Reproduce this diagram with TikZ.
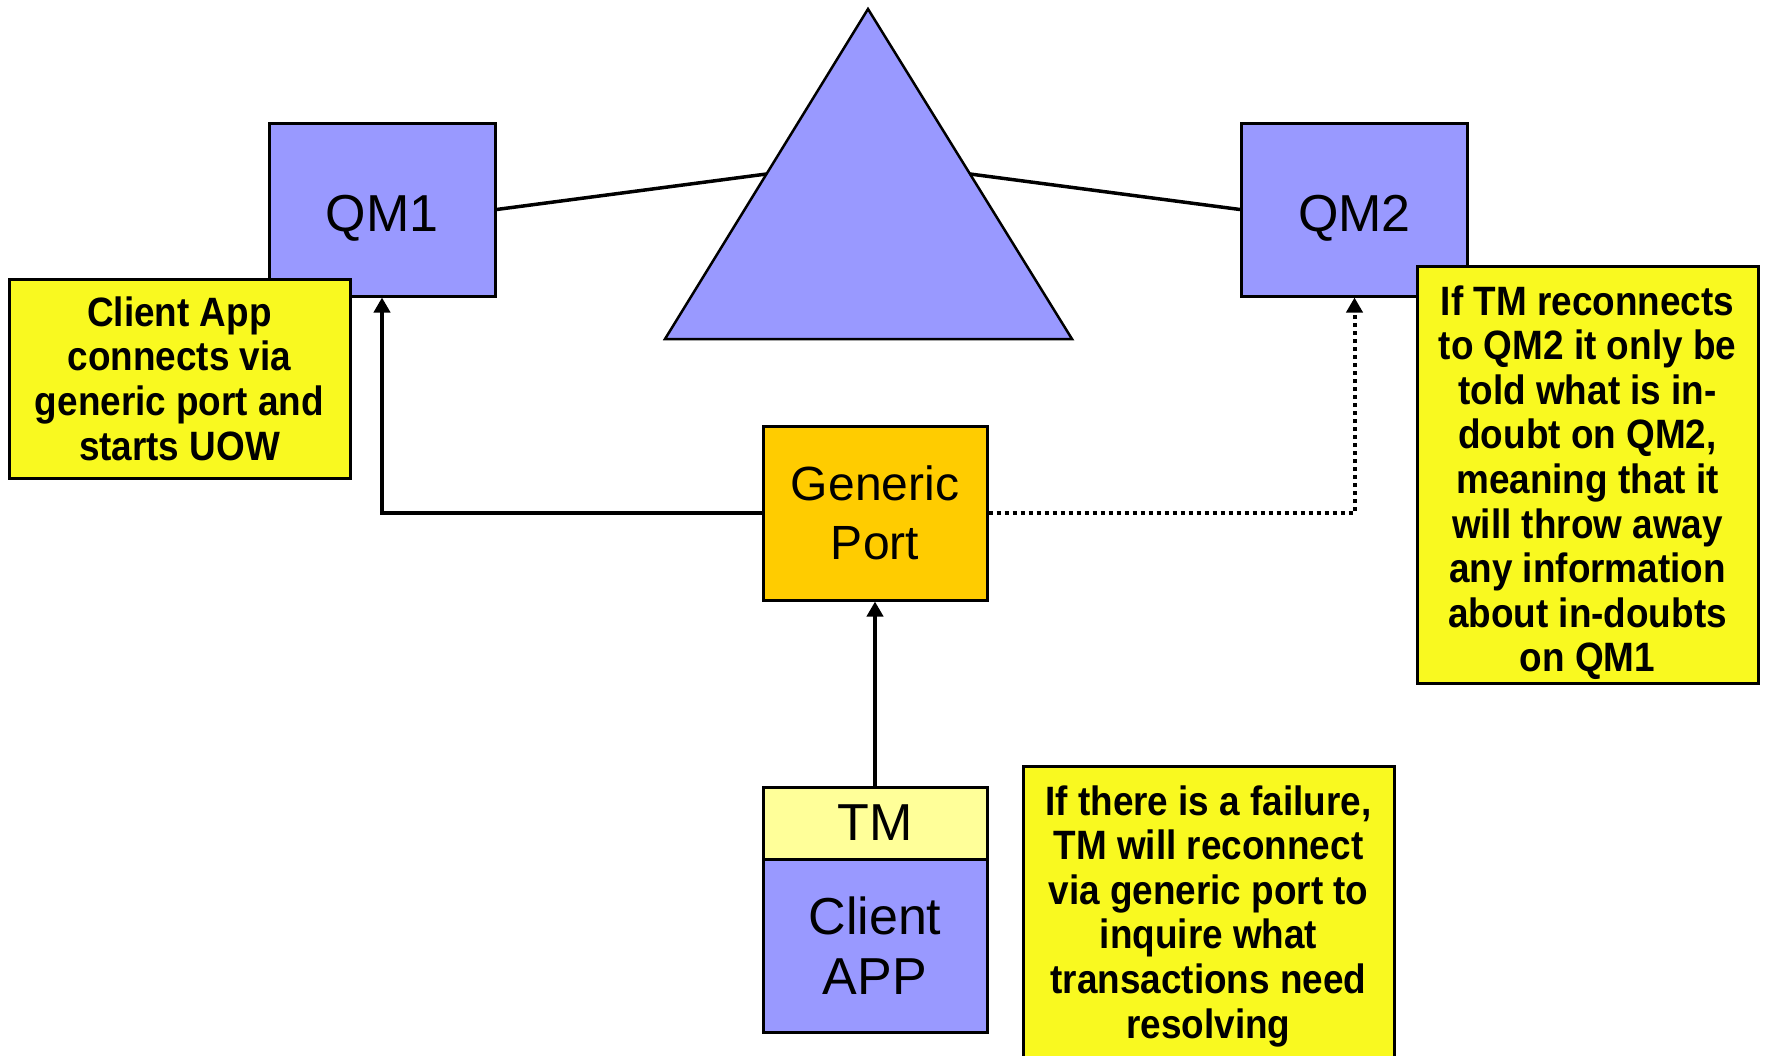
\documentclass[tikz,border=0pt]{standalone}
\usepackage{fontspec}
\setmainfont{Liberation Sans}
\newfontfamily\notefont{Liberation Sans Bold}[FakeStretch=0.9]
\usetikzlibrary{arrows.meta,calc}

\definecolor{qmblue}{RGB}{153,153,255}
\definecolor{noteyellow}{RGB}{249,249,32}
\definecolor{portorange}{RGB}{255,204,0}
\definecolor{tmyellow}{RGB}{255,255,153}

\tikzset{
  box/.style={draw=black, line width=3pt, inner sep=0pt, align=center,
    font=\fontsize{52}{60}\selectfont},
  qmbox/.style={box, fill=qmblue, minimum width=226pt, minimum height=173pt,
    text height=43pt, text depth=0pt},
  note/.style={draw=black, line width=3pt, fill=noteyellow, inner sep=0pt,
    align=center, font=\notefont\fontsize{41}{44.6}\selectfont},
  link/.style={line width=3.5pt},
  flow/.style={line width=4pt, -{Triangle[length=15pt,width=16pt]}},
  dotflow/.style={flow, dash pattern=on 4pt off 4pt}
}

\begin{document}
\begin{tikzpicture}[x=1pt,y=-1pt]
\useasboundingbox (0,0) rectangle (1767,1055);
\clip (0,0) rectangle (1767,1055);

% shared resource triangle
\coordinate (ta) at (868,9);
\coordinate (tl) at (665,339);
\coordinate (tr) at (1072,339);
\filldraw[fill=qmblue, draw=black, line width=2.5pt, line join=miter]
  (ta) -- (tl) -- (tr) -- cycle;
\coordinate (tml) at ($(tl)!0.5!(ta)$);
\coordinate (tmr) at ($(tr)!0.5!(ta)$);

% queue managers
\node[qmbox] (qm1) at (382,209.5) {QM1};
\node[qmbox] (qm2) at (1354.5,209.5) {QM2};

\draw[link] (qm1.east) -- (tml);
\draw[link] (qm2.west) -- (tmr);

% generic port
\node[box, fill=portorange, minimum width=224pt, minimum height=174pt,
  font=\fontsize{48}{59}\selectfont]
  (gp) at (875,513) {Generic\\Port};

% client application with transaction manager
\node[box, fill=tmyellow, minimum width=224pt, minimum height=72pt]
  (tm) at (875,823) {TM};
\node[box, fill=qmblue, minimum width=224pt, minimum height=173pt]
  (app) at (875,945.5) {Client\\APP};

% connections
\draw[flow] (gp.west) -| (qm1.south);
\draw[dotflow] (gp.east) -| (qm2.south);
\draw[flow] (tm.north) -- (gp.south);

% explanatory notes
\node[note, minimum width=341pt, minimum height=199pt] (n1) at (179.5,378.5)
  {Client App\\connects via\\generic port and\\starts UOW};
\node[note, minimum width=341pt, minimum height=417pt] (n2) at (1587.5,474.5)
  {\rule{0pt}{46pt}If TM reconnects\\to QM2 it only be\\told what is in-\\doubt on QM2,\\meaning that it\\will throw away\\any information\\about in-doubts\\on QM1};
\node[note, minimum width=371pt, minimum height=300pt] (n3) at (1208.5,916)
  {If there is a failure,\\TM will reconnect\\via generic port to\\inquire what\\transactions need\\resolving};
\end{tikzpicture}
\end{document}
